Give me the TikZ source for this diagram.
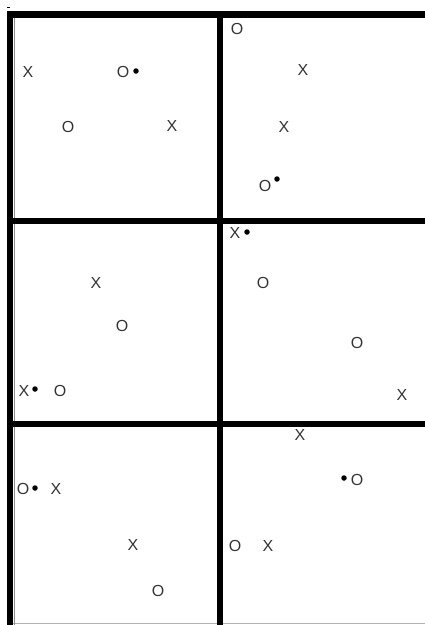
\documentclass[tikz,border=0pt]{standalone}
\usepackage{fontspec}
\setmainfont{Liberation Sans}
\begin{document}
\begin{tikzpicture}[x=1pt,y=-1pt,
  sym/.style={inner sep=0pt,font=\fontsize{16}{16}\selectfont,text=black!80},
  pt/.style={circle,fill=black,inner sep=0pt,minimum size=5.5pt},
  gridline/.style={line width=6pt,black},
  topline/.style={line width=7pt,black}]
\useasboundingbox (0,0) rectangle (425,625);
% frame
\draw[black!30,line width=1pt] (10,623) -- (425,623);
\draw[topline] (7,14) -- (425,14);
\draw[gridline] (10,10.5) -- (10,625);
\draw[black!45,line width=0.7pt] (14.5,18) -- (14.5,625);
\draw[gridline] (220,14) -- (220,625);
\draw[gridline] (10,220.5) -- (425,220.5);
\draw[gridline] (10,424) -- (425,424);
\fill[black] (7,6.5) rectangle (9.5,7.8);
% panel 1
\node[sym] (a1) at (28,72) {X};
\node[sym] (a2) at (123,72) {O};
\node[pt] (a3) at (136,71) {};
\node[sym] (a4) at (68,127) {O};
\node[sym] (a5) at (172,126) {X};
% panel 2
\node[sym] (b1) at (237,29) {O};
\node[sym] (b2) at (303,70) {X};
\node[sym] (b3) at (284,127) {X};
\node[sym] (b4) at (265,186) {O};
\node[pt] (b5) at (277,179) {};
% panel 3
\node[sym] (c1) at (96,283) {X};
\node[sym] (c2) at (122,326) {O};
\node[sym] (c3) at (24,391) {X};
\node[pt] (c4) at (35,389) {};
\node[sym] (c5) at (60,391) {O};
% panel 4
\node[sym] (d1) at (235,233) {X};
\node[pt] (d2) at (247,232) {};
\node[sym] (d3) at (263,283) {O};
\node[sym] (d4) at (357,343) {O};
\node[sym] (d5) at (402,395) {X};
% panel 5
\node[sym] (e1) at (23,489) {O};
\node[pt] (e2) at (35,488) {};
\node[sym] (e3) at (56,489) {X};
\node[sym] (e4) at (133,545) {X};
\node[sym] (e5) at (158,591) {O};
% panel 6
\node[sym] (f1) at (300,435) {X};
\node[pt] (f2) at (344,478) {};
\node[sym] (f3) at (357,480) {O};
\node[sym] (f4) at (235,546) {O};
\node[sym] (f5) at (268,546) {X};
\end{tikzpicture}
\end{document}
